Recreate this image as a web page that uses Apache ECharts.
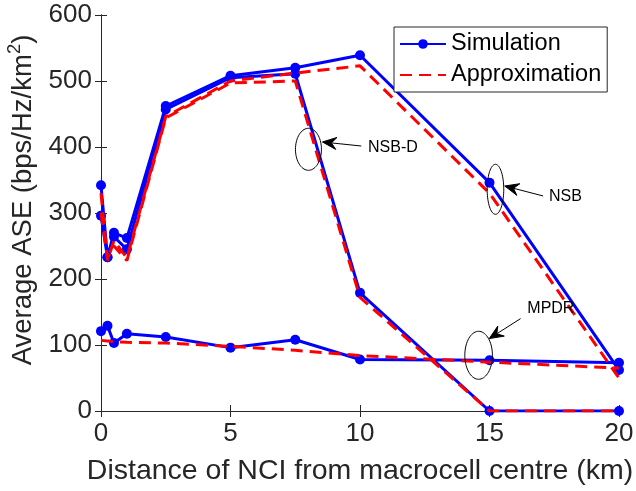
<!DOCTYPE html>
<html><head><meta charset="utf-8">
<script src="https://cdn.jsdelivr.net/npm/echarts@6/dist/echarts.min.js"></script>
<style>html,body{margin:0;padding:0;background:#fff}#c{width:636px;height:491px}</style>
</head><body><div id="c"></div>
<script>
// ---- data ----
const distances  = [0, 0.25, 0.5, 1, 2.5, 5, 7.5, 10, 15, 20];
const nsbSim     = [342, 233, 270, 262, 462, 508, 520, 539, 346, 62];
const nsbApprox  = [330, 228, 258, 232, 446, 500, 512, 523, 330, 50];
const nsbdSim    = [296, 233, 264, 245, 457, 505, 511, 179, 0, 0];
const nsbdApprox = [300, 232, 250, 228, 444, 497, 500, 172, 0, 0];
const mpdrSim    = [121, 129, 103, 117, 112, 96, 108, 78, 77, 73];
const mpdrApprox = [107, 106, 105, 104, 103, 98, 92, 84, 74, 65];
const xTickStep = 5, xMin = 0, xMax = 20;
const yTickStep = 100, yMin = 0, yMax = 600;
const legendNames = ['Simulation', 'Approximation'];
// annotation labels (anchor in data units)
const annotations = [
  {label: 'NSB-D', ell: [8.01, 396.5], rx: 13, ry: 21, tail: [10.05, 401.5], tip: [8.55, 407.6], text: [10.31, 399.5]},
  {label: 'NSB',   ell: [15.23, 335.9], rx: 8.3, ry: 25, tail: [17.07, 325.8], tip: [15.59, 340.9], text: [17.3, 324.2]},
  {label: 'MPDR',  ell: [14.58, 84.4], rx: 13.8, ry: 24, tail: [16.2, 140], tip: [14.99, 109.7], text: [16.46, 155.6]}
];

const FONT = '"Liberation Sans", Arial, Helvetica, sans-serif';
const AX = '#262626';
const pairs = ys => distances.map((x, i) => [x, ys[i]]);

const simStyle = name => ({
  name: 'Simulation', type: 'line', data: pairs(name), xAxisIndex: 0, yAxisIndex: 0,
  symbol: 'circle', symbolSize: 10, showSymbol: true,
  lineStyle: {color: '#0000FF', width: 3}, itemStyle: {color: '#0000FF'},
  emphasis: {disabled: true}, animation: false, z: 2
});
const apxStyle = name => ({
  name: 'Approximation', type: 'line', data: pairs(name), xAxisIndex: 0, yAxisIndex: 0,
  symbol: 'none', showSymbol: false,
  lineStyle: {color: '#FF0000', width: 3, type: [12, 7]}, itemStyle: {color: '#FF0000'},
  emphasis: {disabled: true}, animation: false, z: 3
});

const chart = echarts.init(document.getElementById('c'), null, {renderer: 'canvas'});
const axisCommon = {
  axisLine: {show: true, lineStyle: {color: AX, width: 1}},
  axisTick: {show: true, inside: true, length: 6, lineStyle: {color: AX}},
  splitLine: {show: false}
};
chart.setOption({
  animation: false,
  backgroundColor: '#ffffff',
  textStyle: {fontFamily: FONT},
  grid: {left: 101, top: 15, right: 17, bottom: 80, containLabel: false, outerBoundsMode: 'none'},
  legend: {
    data: [{name: legendNames[0]}, {name: legendNames[1], itemStyle: {opacity: 0}}],
    orient: 'vertical', left: 394, top: 27,
    padding: [5, 6, 5, 5], itemGap: 7, itemWidth: 46, itemHeight: 12,
    borderColor: '#262626', borderWidth: 1, backgroundColor: '#ffffff',
    textStyle: {fontSize: 23.5, color: '#000', fontFamily: FONT, lineHeight: 24},
    selectedMode: false
  },
  xAxis: [
    Object.assign({type: 'value', position: 'bottom', min: xMin, max: xMax, interval: xTickStep,
      name: 'Distance of NCI from macrocell centre (km)', nameLocation: 'middle', nameGap: 46,
      nameTextStyle: {fontSize: 28.5, color: AX, fontFamily: FONT},
      axisLabel: {fontSize: 26, color: AX, margin: 10, fontFamily: FONT}}, axisCommon),
    Object.assign({type: 'value', position: 'top', min: xMin, max: xMax, interval: xTickStep,
      axisLabel: {show: false}}, axisCommon)
  ],
  yAxis: [
    Object.assign({type: 'value', position: 'left', min: yMin, max: yMax, interval: yTickStep,
      name: '{a|Average ASE (bps/Hz/km}{s|2}{a|)}', nameLocation: 'middle', nameGap: 57,
      nameTextStyle: {color: AX, fontFamily: FONT, padding: [0, 0, 0, 26],
        rich: {a: {fontSize: 27.5, color: AX, fontFamily: FONT, lineHeight: 32, verticalAlign: 'bottom'},
               s: {fontSize: 18.5, color: AX, fontFamily: FONT, lineHeight: 32, verticalAlign: 'top'}}},
      axisLabel: {fontSize: 26, color: AX, margin: 9, fontFamily: FONT}}, axisCommon),
    Object.assign({type: 'value', position: 'right', min: yMin, max: yMax, interval: yTickStep,
      axisLabel: {show: false}}, axisCommon)
  ],
  series: [
    simStyle(nsbSim), simStyle(nsbdSim), simStyle(mpdrSim),
    apxStyle(nsbApprox), apxStyle(nsbdApprox), apxStyle(mpdrApprox)
  ]
});

// ---- annotations (ellipse + arrow + text) ----
const toPx = p => chart.convertToPixel({xAxisIndex: 0, yAxisIndex: 0}, p);
const elements = [];
annotations.forEach(a => {
  const c = toPx(a.ell);
  const pts = [];
  for (let k = 0; k < 72; k++) {
    const t = k / 72 * Math.PI * 2;
    pts.push([c[0] + a.rx * Math.cos(t), c[1] + a.ry * Math.sin(t)]);
  }
  elements.push({type: 'polygon', shape: {points: pts}, style: {fill: 'none', stroke: '#000', lineWidth: 1}, z: 10, silent: true});
  const tail = toPx(a.tail), tip = toPx(a.tip);
  const dx = tip[0] - tail[0], dy = tip[1] - tail[1];
  const L = Math.hypot(dx, dy), ux = dx / L, uy = dy / L, nx = -uy, ny = ux;
  const len = 14, half = 6, notch = 9;
  const back = [tip[0] - ux * len, tip[1] - uy * len];
  const mid = [tip[0] - ux * notch, tip[1] - uy * notch];
  elements.push({type: 'line', shape: {x1: tail[0], y1: tail[1], x2: mid[0], y2: mid[1]}, style: {stroke: '#000', lineWidth: 1}, z: 10, silent: true});
  elements.push({type: 'polygon', shape: {points: [tip, [back[0] + nx * half, back[1] + ny * half], mid, [back[0] - nx * half, back[1] - ny * half]]},
    style: {fill: '#000', stroke: '#000', lineWidth: 1}, z: 10, silent: true});
  const tp = toPx(a.text);
  elements.push({type: 'text', x: tp[0], y: tp[1], style: {text: a.label, font: '16px ' + FONT, fill: '#000', textAlign: 'left', textVerticalAlign: 'middle'}, z: 10, silent: true});
});
chart.setOption({graphic: {elements: elements}});
</script>
</body></html>
